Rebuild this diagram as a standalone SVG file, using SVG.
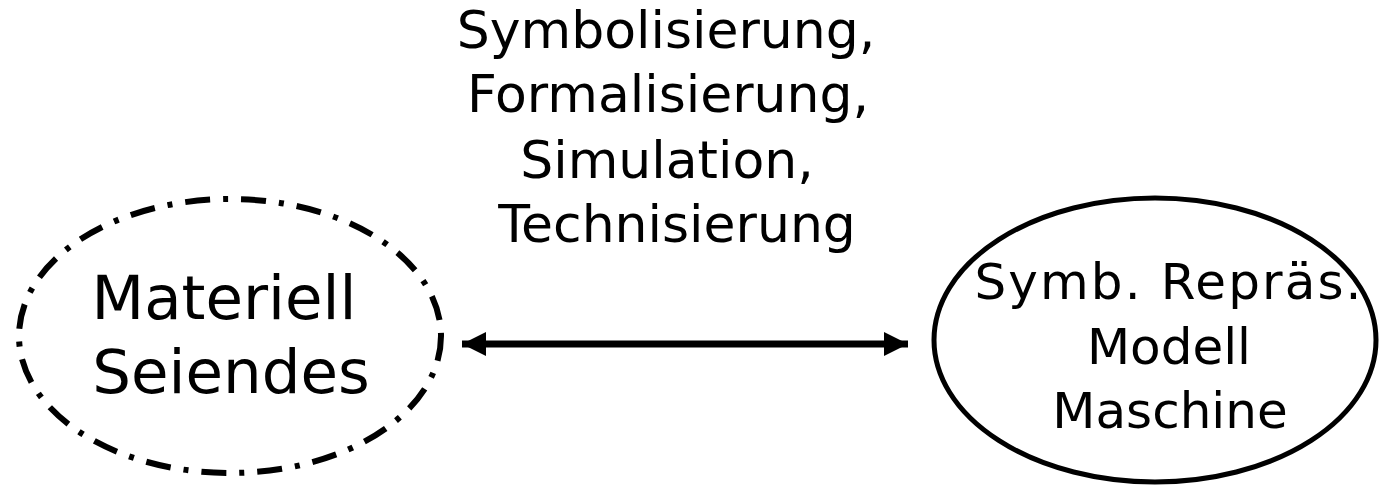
<svg xmlns="http://www.w3.org/2000/svg" width="1380" height="492" viewBox="0 0 1380 492">
<style>
text{font-family:"DejaVu Sans","Liberation Sans",sans-serif;fill:#000;text-anchor:middle}
.big{font-size:61px}
.mid{font-size:50px}
.lbl{font-size:52px}
</style>
<defs>
<marker id="ah" markerWidth="26" markerHeight="26" refX="24" refY="13" orient="auto-start-reverse" markerUnits="userSpaceOnUse">
<path d="M0,1 L24,13 L0,25 Z" fill="#000"/>
</marker>
</defs>
<rect width="1380" height="492" fill="#fff"/>
<g id="label">
<text class="lbl" x="666" y="48">Symbolisierung,</text>
<text class="lbl" x="668" y="112">Formalisierung,</text>
<text class="lbl" x="667" y="178">Simulation,</text>
<text class="lbl" x="677" y="242">Technisierung</text>
</g>
<g id="node-materiell">
<ellipse cx="230" cy="336" rx="211" ry="137" fill="none" stroke="#000" stroke-width="6" stroke-dasharray="25 13 5 13"/>
<text class="big" x="224" y="319">Materiell</text>
<text class="big" x="231" y="393">Seiendes</text>
</g>
<g id="node-symb">
<ellipse cx="1155" cy="340" rx="221" ry="142" fill="none" stroke="#000" stroke-width="5"/>
<text class="mid" x="1168" y="299" textLength="387" lengthAdjust="spacing">Symb. Repräs.</text>
<text class="mid" x="1169" y="364">Modell</text>
<text class="mid" x="1170" y="428">Maschine</text>
</g>
<g id="connectors">
<line x1="462" y1="344" x2="908" y2="344" stroke="#000" stroke-width="7" marker-start="url(#ah)" marker-end="url(#ah)"/>
</g>
</svg>
